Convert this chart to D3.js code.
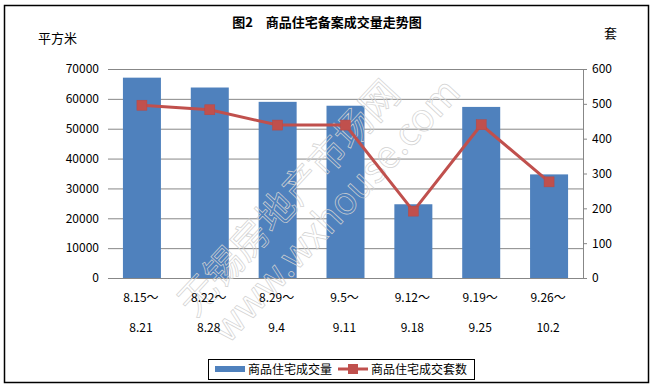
<!DOCTYPE html>
<html><head><meta charset="utf-8">
<script src="https://cdn.jsdelivr.net/npm/d3@7"></script>
<style>body{margin:0;background:#fff}svg{display:block}text{font-family:"Noto Sans CJK SC","DejaVu Sans",sans-serif}</style>
</head><body>
<svg id="c" width="654" height="389"></svg>
<script>
const categoriesTop = ["8.15～","8.22～","8.29～","9.5～","9.12～","9.19～","9.26～"];
const categoriesBottom = ["8.21","8.28","9.4","9.11","9.18","9.25","10.2"];
const areaValues = [67100, 63800, 59000, 57700, 24700, 57300, 34700];
const unitValues = [496, 483, 439, 439, 192, 440, 276];
const leftTicks = [0,10000,20000,30000,40000,50000,60000,70000];
const rightTicks = [0,100,200,300,400,500,600];

const svg = d3.select("#c");
svg.append("rect").attr("x",4.5).attr("y",5.5).attr("width",644).attr("height",377).attr("fill","#fff").attr("stroke","#000").attr("stroke-width",1.5);

const x0 = 108, x1 = 583, yTop = 69, yBot = 278;
const x = d3.scaleBand().domain(d3.range(categoriesTop.length)).range([x0,x1]).paddingInner(0.44).paddingOuter(0.22);
const yL = d3.scaleLinear().domain([0,70000]).range([yBot,yTop]);
const yR = d3.scaleLinear().domain([0,600]).range([yBot,yTop]);

// gridlines + left tick labels
const gl = svg.append("g").attr("transform",`translate(${x0},0)`).call(d3.axisLeft(yL).tickValues(leftTicks).tickSize(-(x1-x0)).tickSizeOuter(0).tickPadding(9).tickFormat(d3.format("d")));
gl.select(".domain").remove();
gl.selectAll(".tick line").attr("stroke","#878787");
gl.selectAll(".tick text").attr("font-size",12).attr("fill","#000");

// bars
svg.append("g").selectAll("rect").data(areaValues).join("rect")
  .attr("x",(d,i)=>x(i)).attr("width",x.bandwidth())
  .attr("y",d=>yL(d)).attr("height",d=>yBot-yL(d)).attr("fill","#4F81BD");

// right axis
const gr = svg.append("g").attr("transform",`translate(${x1},0)`).call(d3.axisRight(yR).tickValues(rightTicks).tickSize(4).tickSizeOuter(0).tickPadding(5));
gr.select(".domain").attr("stroke","#878787");
gr.selectAll(".tick line").attr("stroke","#878787");
gr.selectAll(".tick text").attr("font-size",12).attr("fill","#000");

// watermark
const wm = svg.append("g").attr("fill","none").attr("stroke","#d2d2d2").attr("stroke-width",0.7);
wm.append("text").attr("transform","translate(195,318) rotate(-47)").attr("font-size",38).text("无锡房地产市场网");
wm.append("text").attr("transform","translate(228,345) rotate(-47)").attr("font-size",38).text("www.wxhouse.com");

// line
const cx = i => x(i)+x.bandwidth()/2;
svg.append("path").datum(unitValues).attr("fill","none").attr("stroke","#C0504D").attr("stroke-width",3)
  .attr("d",d3.line().x((d,i)=>cx(i)).y(d=>yR(d)));
svg.append("g").selectAll("rect").data(unitValues).join("rect")
  .attr("x",(d,i)=>cx(i)-5).attr("y",d=>yR(d)-5).attr("width",10).attr("height",10)
  .attr("fill","#C0504D").attr("stroke","#b84845").attr("stroke-width",0.5);

// x labels
const xl = svg.append("g").attr("font-size",12).attr("text-anchor","middle");
xl.selectAll("text.t").data(categoriesTop).join("text").attr("class","t").attr("x",(d,i)=>cx(i)-1).attr("y",302).text(d=>d);
xl.selectAll("text.b").data(categoriesBottom).join("text").attr("class","b").attr("x",(d,i)=>cx(i)-1).attr("y",332).text(d=>d);

// titles
svg.append("text").attr("x",327).attr("y",27).attr("text-anchor","middle").attr("font-size",13).attr("font-weight","bold").text("图2　商品住宅备案成交量走势图");
svg.append("text").attr("x",38).attr("y",43).attr("font-size",13).text("平方米");
svg.append("text").attr("x",604).attr("y",38).attr("font-size",13).text("套");

// legend
const lg = svg.append("g");
lg.append("rect").attr("x",208.5).attr("y",359.5).attr("width",266).attr("height",20).attr("fill","#fff").attr("stroke","#000");
lg.append("rect").attr("x",215).attr("y",366).attr("width",30).attr("height",6).attr("fill","#4F81BD");
lg.append("text").attr("x",248).attr("y",374).attr("font-size",12).text("商品住宅成交量");
lg.append("line").attr("x1",338).attr("x2",368).attr("y1",369).attr("y2",369).attr("stroke","#C0504D").attr("stroke-width",3);
lg.append("rect").attr("x",348).attr("y",364).attr("width",10).attr("height",10).attr("fill","#C0504D");
lg.append("text").attr("x",371).attr("y",374).attr("font-size",12).text("商品住宅成交套数");
</script>
</body></html>
